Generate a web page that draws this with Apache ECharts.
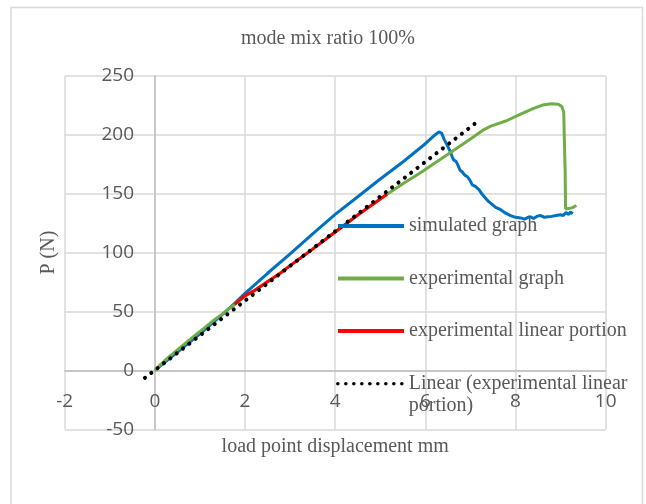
<!DOCTYPE html>
<html>
<head>
<meta charset="utf-8">
<script src="https://cdn.jsdelivr.net/npm/echarts@6/dist/echarts.min.js"></script>
<style>
html,body{margin:0;padding:0;background:#fff;}
#c{width:646px;height:504px;}
</style>
</head>
<body>
<div id="c"></div>
<script>
// ---- data ----
var titleText = 'mode mix ratio 100%';
var xName = 'load point displacement mm';
var yName = 'P (N)';
var seriesNames = ['simulated graph', 'experimental graph', 'experimental linear portion', 'Linear (experimental linear portion)'];

var simulated = [[0,0],[0.5,15.5],[1,31],[1.5,47.5],[1.77,57],[2,65.5],[2.5,82.5],[3,99],[3.5,116],[4,132.5],[4.5,147.5],[5,162.5],[5.5,177],[6,192.5],[6.2,199.5],[6.3,202.5],[6.36,201.5],[6.42,196],[6.48,191.5],[6.55,186],[6.6,181],[6.63,178.5],[6.68,177.5],[6.72,174.5],[6.77,170],[6.82,168.5],[6.87,166],[6.93,164.5],[6.98,162],[7.04,157.5],[7.1,156.5],[7.19,153.5],[7.26,149.5],[7.33,146.5],[7.4,143.5],[7.48,141],[7.56,138.5],[7.67,136.5],[7.78,133.5],[7.89,131.5],[8.0,130],[8.11,129.5],[8.2,128.5],[8.28,130],[8.33,130.5],[8.4,129],[8.48,131],[8.56,131.5],[8.64,130],[8.72,130.5],[8.8,130.8],[8.9,131.5],[9.0,132.2],[9.06,131.5],[9.12,134],[9.18,132.5],[9.22,134.5],[9.27,133]];

var experimental = [[0,0],[0.1,4],[0.3,11],[0.5,17.5],[0.8,27],[1.0,33],[1.3,42.5],[1.5,48],[1.77,56],[2.0,63],[2.5,75],[3.0,89],[3.5,103],[4.0,117.5],[4.5,132],[5.0,145.5],[5.15,149.5],[5.5,158.5],[5.9,168],[6.5,183.5],[7.0,196.5],[7.3,204.5],[7.45,207.5],[7.8,212],[8.1,217.5],[8.4,222.5],[8.6,225.3],[8.8,226.5],[8.95,226],[9.03,224],[9.07,219],[9.08,200],[9.1,170],[9.11,137],[9.18,137.5],[9.25,138],[9.35,140]];

var linearPortion = [[1.77,56],[2.0,63.5],[2.2,67.5],[2.5,75.5],[2.8,83],[3.0,89],[3.5,103],[4.0,117.5],[4.5,132],[5.0,145.5],[5.15,149.5]];

var trendLine = [[-0.22,-6.3],[7.09,209.3]];

var xMin = -2, xMax = 10, xStep = 2;
var yMin = -50, yMax = 250, yStep = 50;

// ---- chart ----
var serif = '"Liberation Serif", "DejaVu Serif", serif';
var sans = '"Open Sans", "Liberation Sans", sans-serif';
var txt = '#595959';
var legendText = {fontFamily: serif, fontSize: 20, color: txt, lineHeight: 22};
var chart = echarts.init(document.getElementById('c'), null, {renderer: 'canvas'});
chart.setOption({
  animation: false,
  backgroundColor: '#ffffff',
  title: {
    text: titleText, left: 241, top: 29, padding: 0,
    textStyle: {fontFamily: serif, fontSize: 20, fontWeight: 'normal', color: txt}
  },
  graphic: [{
    type: 'rect', silent: true, z: -10,
    shape: {x: 11, y: 7.5, width: 631.5, height: 520},
    style: {fill: 'none', stroke: '#d9d9d9', lineWidth: 1.5}
  }],
  grid: {left: 64.7, right: 40.3, top: 76, bottom: 74.7, containLabel: false, outerBoundsMode: 'none'},
  legend: [{
    orient: 'vertical', left: 336, top: 215, padding: 0,
    itemWidth: 66, itemHeight: 2, itemGap: 30.5,
    lineStyle: {width: 4},
    textStyle: legendText,
    data: [seriesNames[0], seriesNames[1], seriesNames[2]]
  }, {
    orient: 'vertical', left: 336, top: 350.7, padding: 0,
    itemWidth: 66, itemHeight: 2,
    lineStyle: {width: 3.5},
    textStyle: legendText,
    formatter: function () { return '\nLinear (experimental linear\nportion)'; },
    data: [seriesNames[3]]
  }],
  xAxis: {
    type: 'value', min: xMin, max: xMax, interval: xStep,
    name: xName, nameLocation: 'middle', nameGap: 7.4,
    nameTextStyle: {fontFamily: serif, fontSize: 20, color: txt},
    axisLine: {onZero: true, lineStyle: {color: '#bfbfbf', width: 1.5}},
    axisTick: {show: false},
    axisLabel: {fontFamily: sans, fontSize: 19, color: txt, margin: -37.5},
    splitLine: {show: true, lineStyle: {color: '#d9d9d9', width: 1.5}}
  },
  yAxis: {
    type: 'value', min: yMin, max: yMax, interval: yStep,
    name: yName, nameLocation: 'middle', nameGap: 6,
    nameTextStyle: {fontFamily: serif, fontSize: 20, color: txt},
    axisLine: {onZero: true, lineStyle: {color: '#bfbfbf', width: 1.5}},
    axisTick: {show: false},
    axisLabel: {fontFamily: sans, fontSize: 19, color: txt, margin: -69.3},
    splitLine: {show: true, lineStyle: {color: '#d9d9d9', width: 1.5}}
  },
  series: [
    {name: seriesNames[0], type: 'line', data: simulated, showSymbol: false, symbol: 'none',
     lineStyle: {color: '#0070C0', width: 3}, itemStyle: {color: '#0070C0'}},
    {name: seriesNames[1], type: 'line', data: experimental, showSymbol: false, symbol: 'none',
     lineStyle: {color: '#70AD47', width: 3}, itemStyle: {color: '#70AD47'}},
    {name: seriesNames[2], type: 'line', data: linearPortion, showSymbol: false, symbol: 'none',
     lineStyle: {color: '#FF0000', width: 3}, itemStyle: {color: '#FF0000'}},
    {name: seriesNames[3], type: 'line', data: trendLine, showSymbol: false, symbol: 'none',
     lineStyle: {color: '#000000', width: 4, type: [0.1, 7.9], cap: 'round'}, itemStyle: {color: '#000000'}}
  ]
});
</script>
</body>
</html>
